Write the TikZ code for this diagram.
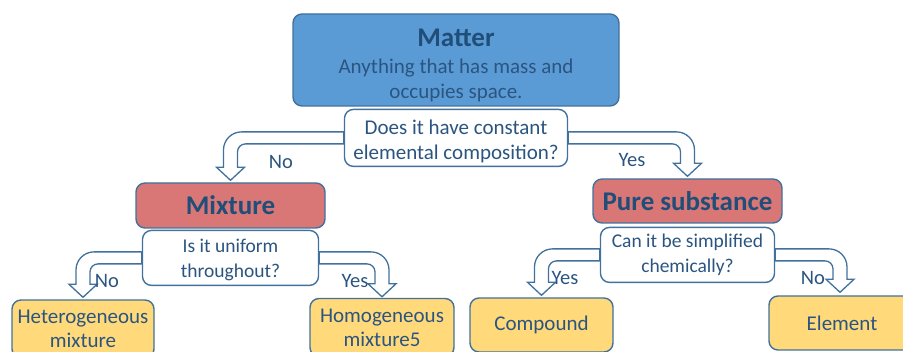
\documentclass[tikz,border=0pt]{standalone}
\usepackage{fontspec}
\setmainfont{Carlito}
\usetikzlibrary{positioning,backgrounds,calc}

\definecolor{edgeblue}{HTML}{41719C}
\definecolor{matterblue}{HTML}{5B9BD5}
\definecolor{classred}{HTML}{D97777}
\definecolor{leafyellow}{HTML}{FFD97A}
\definecolor{textblue}{HTML}{2B5580}
\definecolor{titleblue}{HTML}{1F4E79}

\begin{document}
\begin{tikzpicture}[x=1pt, y=1pt,
    box/.style={
        draw=edgeblue,
        line width=1.4pt,
        rounded corners=9pt,
        align=center,
        inner sep=0pt,
        text=textblue
        },
    topbox/.style={box, fill=matterblue, font=\fontsize{21}{25}\selectfont},
    classbox/.style={box, fill=classred, text=titleblue,
        font=\fontsize{27}{30}\selectfont\bfseries},
    askbox/.style={box, fill=white, font=\fontsize{21}{25}\selectfont},
    leafbox/.style={box, fill=leafyellow, font=\fontsize{21}{24}\selectfont},
    answer/.style={inner sep=0pt, text=textblue, font=\fontsize{20.5}{24}\selectfont},
    bentarrow/.style={
        draw=edgeblue,
        fill=white,
        line width=1.3pt,
        to path={let \p1=(\tikztostart), \p2=(\tikztotarget), \n1={sign(\x2-\x1)} in
            (\x1,\y1+6pt) -- ({\x2+(\n1)*7pt-(\n1)*18pt},\y1+6pt)
            arc[start angle=90, end angle={90-(\n1)*90}, radius=18pt]
            -- ({\x2+(\n1)*7pt},\y2+13pt) -- ({\x2+(\n1)*14pt},\y2+13pt)
            -- (\x2,\y2) -- ({\x2-(\n1)*14pt},\y2+13pt)
            -- ({\x2-(\n1)*7pt},\y2+13pt) -- ({\x2-(\n1)*7pt},\y1-14pt)
            arc[start angle={90-(\n1)*90}, end angle=90, radius=8pt]
            -- (\x1,\y1-6pt) -- cycle}
        }
]
\useasboundingbox (0,0) rectangle (903,352);
\clip (0,0) rectangle (903,352);

% top of the tree
\node[topbox, minimum width=326pt, minimum height=92pt] (matter) at (456,292)
    {{\fontsize{27}{30}\selectfont\bfseries\color{titleblue}\rule{0pt}{28pt}Matter}\\[2pt]
     Anything that has mass and\\occupies space.};
\node[askbox, minimum width=223pt, minimum height=57pt, below=2pt of matter] (ask1)
    {\rule{0pt}{21pt}Does it have constant\\elemental composition?};

% second level
\node[classbox, minimum width=189pt, minimum height=45pt] (mixture) at (230.5,146.5) {Mixture};
\node[askbox, font=\fontsize{19.5}{25}\selectfont, minimum width=176pt, minimum height=55pt,
    below=1pt of mixture] (ask2) {\rule{0pt}{17pt}Is it uniform\\throughout?};

\node[classbox, minimum width=189pt, minimum height=44pt] (pure) at (687.5,151) {Pure substance};
\node[askbox, font=\fontsize{19.5}{25}\selectfont, minimum width=174pt, minimum height=55pt,
    below=3pt of pure] (ask3) {Can it be simplified\\chemically?};

% leaves
\node[leafbox, minimum width=142pt, minimum height=58pt] (hetero) at (83,23) {Heterogeneous\\mixture};
\node[leafbox, minimum width=144pt, minimum height=58pt] (homo) at (382,24.5) {Homogeneous\\mixture5};
\node[leafbox, minimum width=143pt, minimum height=54pt] (compound) at (541.5,27) {Compound};
\node[leafbox, minimum width=146pt, minimum height=54pt] (element) at (842,29) {Element};

% answers
\node[answer] (no1) at (281,190) {No};
\node[answer] (yes1) at (632,192) {Yes};
\node[answer] (no2) at (107,71) {No};
\node[answer] (yes2) at (355,71) {Yes};
\node[answer] (yes3) at (565,74) {Yes};
\node[answer] (no3) at (813,74) {No};

\begin{scope}[on background layer]
\draw[bentarrow] (ask1.west) to ([yshift=2pt]mixture.north);
\draw[bentarrow] (ask1.east) to ([yshift=2pt]pure.north);
\draw[bentarrow] (ask2.west) to ([yshift=2pt]hetero.north);
\draw[bentarrow] (ask2.east) to ([yshift=1pt]homo.north);
\draw[bentarrow] (ask3.west) to ([yshift=2pt]compound.north);
\draw[bentarrow] (ask3.east) to ([xshift=-2pt,yshift=3pt]element.north);
\end{scope}

\end{tikzpicture}
\end{document}
